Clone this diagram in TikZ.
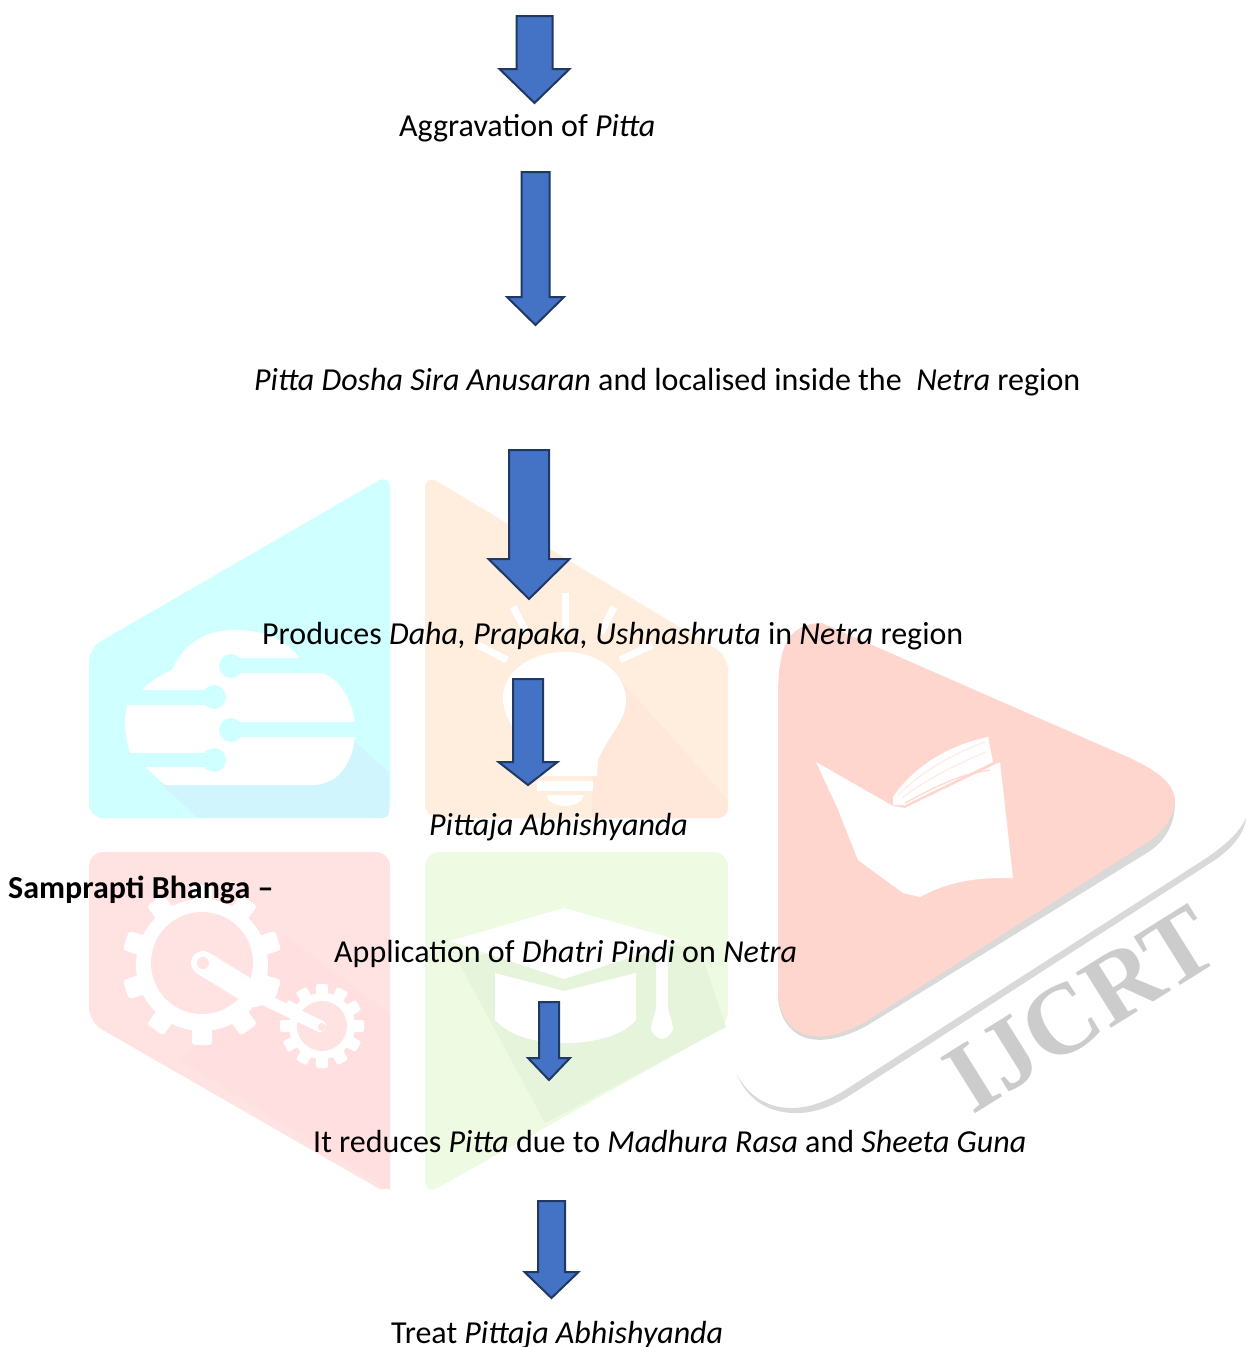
\documentclass[tikz,border=0pt]{standalone}
\usepackage{fontspec}
\setmainfont{Carlito}
\newfontfamily\wmfont{Liberation Serif}
\definecolor{wcyan}{HTML}{CFFFFF}
\definecolor{wcyansh}{HTML}{D1F5FD}
\definecolor{worange}{HTML}{FFEEDD}
\definecolor{worangesh}{HTML}{FFE8DA}
\definecolor{wred}{HTML}{FFE2E2}
\definecolor{wredsh}{HTML}{FFDFDF}
\definecolor{wgreen}{HTML}{EEFBE2}
\definecolor{wgreensh}{HTML}{E6F4DB}
\definecolor{wtri}{HTML}{FFD6CE}
\definecolor{wgrey}{HTML}{CCCCCC}
\definecolor{arrowfill}{HTML}{4472C4}
\definecolor{arrowline}{HTML}{1F3864}
\tikzset{
  blockarrow/.style={fill=arrowfill,draw=arrowline,line width=2pt,line join=miter},
  label/.style={anchor=base west,inner sep=0pt,font=\fontsize{32}{38}\selectfont,text=black},
  rayline/.style={draw=white,line width=7pt},
}
\newcommand\blockarrow[6]{% xc, top, headtop, tip, half shaft, half head
  \path[blockarrow] ({#1-#5},#2) -- ({#1+#5},#2) -- ({#1+#5},#3) -- ({#1+#6},#3) -- (#1,#4) -- ({#1-#6},#3) -- ({#1-#5},#3) -- cycle;}
\begin{document}
\begin{tikzpicture}[x=1pt,y=-1pt]
\useasboundingbox (0,0) rectangle (1246,1347);
% --- cyan panel
\fill[wcyan,rounded corners=14pt] (390,474) -- (390,818) -- (89,818) -- (89,648) -- cycle;
\fill[wcyansh] (353,740) -- (389,772) -- (389,812) .. controls (389,816) and (386,818) .. (383,818) -- (198,818) -- (160,783) -- cycle;
\fill[white] (142,690) .. controls (150,682) and (160,675) .. (172,670)
  .. controls (185,640) and (210,630) .. (235,630) .. controls (265,630) and (285,640) .. (300,658)
  -- (300,673) -- (322,673) .. controls (342,680) and (355,705) .. (355,730)
  .. controls (355,760) and (340,785) .. (312,785) -- (165,785) -- (145,767) -- (130,753)
  .. controls (126,740) and (125,730) .. (125,720) -- (127,705) -- cycle;
\fill[wcyan] (222,658) -- (305,658) -- (305,673) -- (222,673) -- cycle;
\fill[wcyan] (231,666) circle[radius=12];
\fill[wcyan] (120,690) -- (212,690) -- (212,705) -- (120,705) -- cycle;
\fill[wcyan] (214,697) circle[radius=12];
\fill[wcyan] (231,722) -- (360,722) -- (360,737) -- (231,737) -- cycle;
\fill[wcyan] (231,730) circle[radius=12];
\fill[wcyan] (120,753) -- (212,753) -- (212,767) -- (120,767) -- cycle;
\fill[wcyan] (214,760) circle[radius=12];
% --- orange panel
\fill[worange,rounded corners=14pt] (425,474) -- (728,656) -- (728,818) -- (425,818) -- cycle;
\fill[worangesh] (623,683) -- (728,800) -- (728,808) .. controls (728,814) and (724,818) .. (718,818) -- (592,818) -- (592,760) -- cycle;
\fill[white] (565,652) .. controls (600,652) and (626,675) .. (626,700)
  .. controls (626,722) and (608,735) .. (598,760) -- (597,776) -- (535,776) -- (533,760)
  .. controls (522,735) and (503,722) .. (503,698) .. controls (503,672) and (530,652) .. (565,652) -- cycle;
\fill[white] (537,781) rectangle (593,791);
\fill[white] (546,795) -- (584,795) .. controls (582,802) and (574,806) .. (565,806) .. controls (556,806) and (548,802) .. (546,795) -- cycle;
\draw[rayline] (565,593) -- (565,633);
\draw[rayline] (513,607) -- (527,633);
\draw[rayline] (614,607) -- (601,633);
\draw[rayline] (478,645) -- (507,660);
\draw[rayline] (652,645) -- (620,660);
% --- red panel
\fill[wred,rounded corners=14pt] (89,852) -- (390,852) -- (390,1195) -- (89,1022) -- cycle;
\fill[wredsh] (285,935) -- (390,1015) -- (390,1190) -- (180,1060) -- cycle;
\fill[white] (202,965) circle[radius=66];
\foreach \a in {0,36,...,324} {
  \fill[white,rounded corners=3pt,rotate around={\a:(202,965)}] (192,885) rectangle (212,908);
}
\fill[wred] (202,963) circle[radius=51];
\fill[white] (322,1026) circle[radius=33];
\foreach \a in {0,30,...,330} {
  \fill[white,rounded corners=2pt,rotate around={\a:(322,1026)}] (316,984) rectangle (328,1000);
}
\fill[wred] (322,1026) circle[radius=25];
\draw[white,line width=24pt,line cap=round] (203,963) -- (255,995);
\draw[white,line width=12pt,line cap=round] (255,995) -- (320,1026);
\fill[wred] (203,963) circle[radius=6];
\fill[wred] (322,1027) circle[radius=4];
% --- green panel
\fill[wgreen,rounded corners=14pt] (425,852) -- (728,852) -- (728,1025) -- (425,1195) -- cycle;
\fill[wgreensh] (459,963) -- (545,1123) -- (726,1027) -- (700,950) -- (564,925) -- cycle;
\fill[white] (564,908) -- (682,941) -- (564,979) -- (450,941) -- cycle;
\fill[white] (495,973) -- (564,991) -- (636,973) -- (636,1020)
  .. controls (620,1038) and (590,1043) .. (564,1043) .. controls (535,1043) and (510,1036) .. (495,1020) -- cycle;
\fill[white,rounded corners=5pt] (656,945) -- (668,945) -- (668,1010) -- (673,1025) -- (673,1032) -- (662,1041) -- (651,1032) -- (651,1025) -- (656,1010) -- cycle;
% --- big triangle with swoosh
\fill[wgrey!75!white] (778,704) -- (778,998) .. controls (782,1038) and (815,1054) .. (868,1025) -- (1150,851) .. controls (1168,838) and (1175,822) .. (1175,800) -- cycle;
\fill[wtri] (778,700) .. controls (778,650) and (785,624) .. (822,623) -- (1130,758)
  .. controls (1160,772) and (1175,785) .. (1175,802) .. controls (1172,825) and (1155,838) .. (1140,847)
  -- (865,1022) .. controls (815,1050) and (782,1035) .. (778,995) -- cycle;
\fill[white] (816,762) -- (893,806) -- (905,808) -- (1000,762) -- (1013,878) .. controls (985,878) and (955,878) .. (920,897) -- (903,893) -- (858,860) -- (837,807) -- cycle;
\fill[white] (893,797) .. controls (915,765) and (950,745) .. (988,737) -- (993,762) -- (905,805) -- (893,805) -- cycle;
\draw[wtri!50!white,line width=1.2pt] (898,795) .. controls (920,773) and (950,755) .. (985,742);
\draw[wtri!50!white,line width=1.2pt] (902,798) .. controls (925,780) and (955,765) .. (986,752);
\draw[wtri,line width=1.2pt] (905,803) .. controls (930,790) and (955,775) .. (990,770);
\fill[wgrey!75!white] (737,1075) .. controls (750,1105) and (775,1114) .. (800,1113)
  .. controls (820,1112) and (838,1103) .. (852,1094) -- (1215,860) .. controls (1232,848) and (1243,835) .. (1246,820)
  -- (1246,818) .. controls (1240,832) and (1225,845) .. (1208,857) -- (842,1092)
  .. controls (825,1102) and (810,1107) .. (795,1108) .. controls (770,1109) and (750,1098) .. (737,1075) -- cycle;
\node[rotate=32,text=wgrey,inner sep=0pt] (wmtext) at (1081,1009) {\wmfont\bfseries\fontsize{100}{100}\selectfont IJCRT};
% --- block arrows
\blockarrow{534.5}{16}{69}{103}{18}{35}
\blockarrow{535.5}{172}{297}{325}{14}{28.5}
\blockarrow{529}{450}{559}{599}{20}{40.5}
\blockarrow{528}{679}{762}{785}{15}{29.5}
\blockarrow{549}{1002}{1058}{1080}{10}{21}
\blockarrow{551.5}{1201}{1272}{1298}{13.5}{27}
% --- texts
\node[label] (t1) at (399,136) {Aggravation of \textit{Pitta}};
\node[label] (t2) at (254,390) {\textit{Pitta Dosha Sira Anusaran} and localised inside the \ \textit{Netra} region};
\node[label] (t3) at (262,644) {Produces \textit{Daha, Prapaka, Ushnashruta} in \textit{Netra} region};
\node[label] (t4) at (429,835) {\textit{Pittaja Abhishyanda}};
\node[label] (t5) at (8,898) {\textbf{Samprapti Bhanga –}};
\node[label] (t6) at (334,962) {Application of \textit{Dhatri Pindi} on \textit{Netra}};
\node[label] (t7) at (313,1152) {It reduces \textit{Pitta} due to \textit{Madhura Rasa} and \textit{Sheeta Guna}};
\node[label] (t8) at (391,1343) {Treat \textit{Pittaja Abhishyanda}};
\end{tikzpicture}
\end{document}
